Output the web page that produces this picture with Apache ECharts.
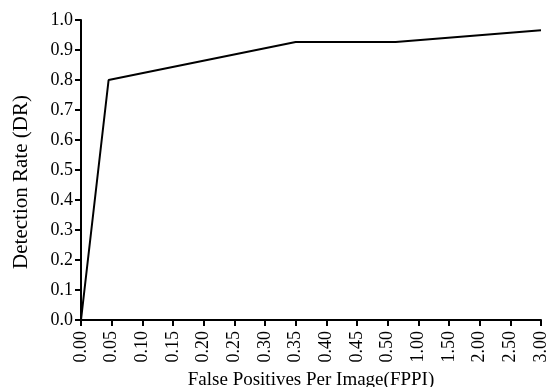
<!DOCTYPE html>
<html>
<head>
<meta charset="utf-8">
<script src="https://cdn.jsdelivr.net/npm/echarts@6/dist/echarts.min.js"></script>
<style>
  html, body { margin: 0; padding: 0; background: #fff; }
  #chart { width: 549px; height: 387px; }
</style>
</head>
<body>
<div id="chart"></div>
<script>
// x-axis tick labels (FPPI), evenly spaced, not a linear scale
var tickLabels = ['0.00', '0.05', '0.10', '0.15', '0.20', '0.25', '0.30', '0.35',
                  '0.40', '0.45', '0.50', '1.00', '1.50', '2.00', '2.50', '3.00'];
// point positions measured in tick-index units along the x axis
var pointPos = [0, 0.9, 7, 10.26, 15];
// detection rate at each point
var detectionRate = [0.0, 0.80, 0.927, 0.927, 0.966];

var font = 'Liberation Serif';
var chart = echarts.init(document.getElementById('chart'));

var option = {
    backgroundColor: '#fff',
    animation: false,
    grid: {
        left: 81,
        right: 8,
        top: 20,
        bottom: 67,
        outerBoundsMode: 'none'
    },
    xAxis: {
        type: 'value',
        min: 0,
        max: tickLabels.length - 1,
        interval: 1,
        name: 'False Positives Per Image(FPPI)',
        nameLocation: 'middle',
        nameGap: 48,
        nameTextStyle: { fontFamily: font, fontSize: 19, color: '#000' },
        axisLine: { lineStyle: { color: '#000', width: 2 } },
        axisTick: { show: true, length: 6, lineStyle: { color: '#000', width: 2 } },
        axisLabel: {
            rotate: 90,
            margin: 11,
            fontFamily: font,
            fontSize: 18,
            color: '#000',
            formatter: function (v) { return tickLabels[Math.round(v)]; }
        },
        splitLine: { show: false }
    },
    yAxis: {
        type: 'value',
        min: 0,
        max: 1,
        interval: 0.1,
        name: 'Detection Rate (DR)',
        nameLocation: 'middle',
        nameGap: 49,
        nameTextStyle: { fontFamily: font, fontSize: 21, color: '#000', padding: [0, 24, 0, 0] },
        axisLine: { show: true, lineStyle: { color: '#000', width: 2 } },
        axisTick: { show: true, length: 6, lineStyle: { color: '#000', width: 2 } },
        axisLabel: {
            margin: 8,
            fontFamily: font,
            fontSize: 18,
            color: '#000',
            formatter: function (v) { return v.toFixed(1); }
        },
        splitLine: { show: false }
    },
    series: [
        {
            type: 'line',
            data: pointPos.map(function (x, i) { return [x, detectionRate[i]]; }),
            showSymbol: false,
            lineStyle: { color: '#000', width: 2 }
        }
    ]
};

chart.setOption(option);
</script>
</body>
</html>
